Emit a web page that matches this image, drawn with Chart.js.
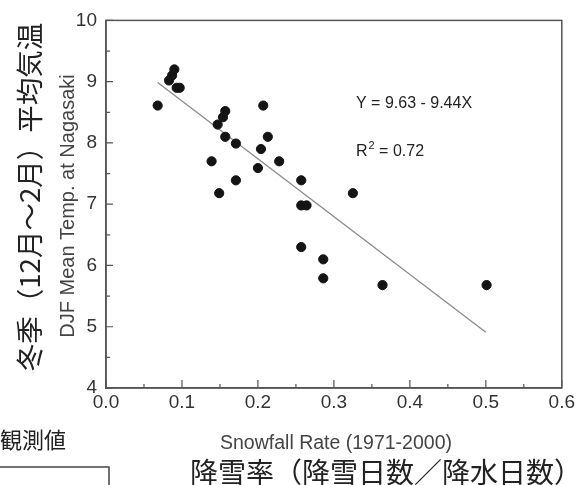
<!DOCTYPE html>
<html>
<head>
<meta charset="utf-8">
<script src="https://cdn.jsdelivr.net/npm/chart.js@4/dist/chart.umd.min.js"></script>
<style>
  html, body { margin: 0; padding: 0; background: #fff; }
  #wrap { position: relative; width: 578px; height: 485px; }
</style>
</head>
<body>
<div id="wrap"><canvas id="ctx" width="578" height="485"></canvas></div>
<script>
// snowfall rate vs. DJF mean temperature, Nagasaki 1971-2000
const snowRate = [0.068, 0.090, 0.087, 0.083, 0.093, 0.097, 0.157, 0.154, 0.147, 0.157,
                  0.171, 0.139, 0.149, 0.171, 0.207, 0.213, 0.204, 0.200, 0.228, 0.257,
                  0.257, 0.264, 0.257, 0.325, 0.286, 0.286, 0.364, 0.501];
const meanTemp = [8.61, 9.20, 9.10, 9.02, 8.90, 8.90, 8.52, 8.42, 8.30, 8.10,
                  7.99, 7.70, 7.18, 7.39, 8.61, 8.10, 7.90, 7.59, 7.70, 7.39,
                  6.98, 6.98, 6.30, 7.18, 6.10, 5.79, 5.68, 5.68];
const xTicks = [0.0, 0.1, 0.2, 0.3, 0.4, 0.5, 0.6];
const yTicks = [4, 5, 6, 7, 8, 9, 10];

// regression Y = 9.63 - 9.44X over the observed range
const fitA = 9.63, fitB = 9.44, r2 = 0.72;
const fitX = [0.068, 0.5];

const pts = snowRate.map((x, i) => ({x: x, y: meanTemp[i]}));
const fitPts = fitX.map(x => ({x: x, y: fitA - fitB * x}));

const latin = '"Liberation Sans", Arial, sans-serif';
const jp = '"Noto Sans CJK JP", sans-serif';

// box, inward ticks and the free text
const decor = {
  id: 'decor',
  afterDraw(chart) {
    const c = chart.ctx, a = chart.chartArea;
    const sx = chart.scales.x, sy = chart.scales.y;
    c.save();
    c.strokeStyle = '#555';
    c.lineWidth = 1.5;
    c.strokeRect(a.left, a.top, a.right - a.left, a.bottom - a.top);

    c.lineWidth = 1.2;
    c.beginPath();
    for (let v = 0; v <= 0.6001; v += 0.05) {
      const px = sx.getPixelForValue(v);
      const major = Math.abs(v * 10 - Math.round(v * 10)) < 0.01;
      c.moveTo(px, a.bottom);
      c.lineTo(px, a.bottom - (major ? 8 : 4));
    }
    for (let v = 4; v <= 10.001; v += 0.5) {
      const py = sy.getPixelForValue(v);
      const major = Math.abs(v - Math.round(v)) < 0.01;
      c.moveTo(a.left, py);
      c.lineTo(a.left + (major ? 7 : 4), py);
    }
    c.stroke();

    // equation and R2
    c.fillStyle = '#222';
    c.textBaseline = 'middle';
    c.textAlign = 'left';
    c.font = '16px ' + latin;
    c.fillText('Y = ' + fitA.toFixed(2) + ' - ' + fitB.toFixed(2) + 'X', 356, 104);
    c.fillText('R', 356, 152);
    const rw = c.measureText('R').width;
    c.font = '11px ' + latin;
    c.fillText('2', 356 + rw + 1, 146);
    const w2 = c.measureText('2').width;
    c.font = '16px ' + latin;
    c.fillText(' = ' + r2.toFixed(2), 356 + rw + 1 + w2, 152);

    // axis titles
    c.fillStyle = '#444';
    c.textAlign = 'center';
    c.font = '19.5px ' + latin;
    c.fillText('Snowfall Rate (1971-2000)', 336, 444);
    c.save();
    c.translate(68, 206);
    c.rotate(-Math.PI / 2);
    c.font = '20px ' + latin;
    c.fillText('DJF Mean Temp. at Nagasaki', 0, 0);
    c.restore();

    c.fillStyle = '#222';
    c.font = '28px ' + jp;
    c.fillText('降雪率（降雪日数／降水日数）', 386, 472);
    c.save();
    c.translate(30, 197);
    c.rotate(-Math.PI / 2);
    c.font = '27.5px ' + jp;
    c.fillText('冬季（12月～2月）平均気温', 0, 0);
    c.restore();

    // neighbouring panel label and frame
    c.textAlign = 'left';
    c.font = '22px ' + jp;
    c.fillText('観測値', 0, 440);
    c.strokeStyle = '#444';
    c.lineWidth = 1.5;
    c.beginPath();
    c.moveTo(0, 467);
    c.lineTo(109, 467);
    c.lineTo(109, 486);
    c.stroke();
    c.restore();
  }
};

new Chart(document.getElementById('ctx'), {
  type: 'scatter',
  data: {
    datasets: [{
      label: 'observed',
      data: pts,
      backgroundColor: '#141414',
      borderColor: '#141414',
      pointRadius: 4.6,
      pointHoverRadius: 4.6
    }, {
      type: 'line',
      label: 'fit',
      data: fitPts,
      borderColor: '#8a8a8a',
      borderWidth: 1.3,
      pointRadius: 0,
      fill: false
    }]
  },
  options: {
    responsive: false,
    animation: false,
    layout: {padding: {top: 20, right: 13, left: 0, bottom: 0}},
    plugins: {legend: {display: false}, tooltip: {enabled: false}},
    scales: {
      x: {
        type: 'linear',
        min: 0, max: 0.6,
        afterBuildTicks: s => { s.ticks = xTicks.map(v => ({value: v})); },
        afterFit: s => { s.height = 97; },
        ticks: {
          callback: v => v.toFixed(1),
          color: '#333',
          font: {family: latin, size: 19},
          padding: 3,
          maxRotation: 0
        },
        grid: {drawOnChartArea: false, drawTicks: false},
        border: {color: '#555', width: 1.5}
      },
      y: {
        min: 4, max: 10,
        afterBuildTicks: s => { s.ticks = yTicks.map(v => ({value: v})); },
        afterFit: s => { s.width = 106; },
        ticks: {
          color: '#333',
          font: {family: latin, size: 19},
          padding: 9
        },
        grid: {drawOnChartArea: false, drawTicks: false},
        border: {color: '#555', width: 1.5}
      }
    }
  },
  plugins: [decor]
});
</script>
</body>
</html>
